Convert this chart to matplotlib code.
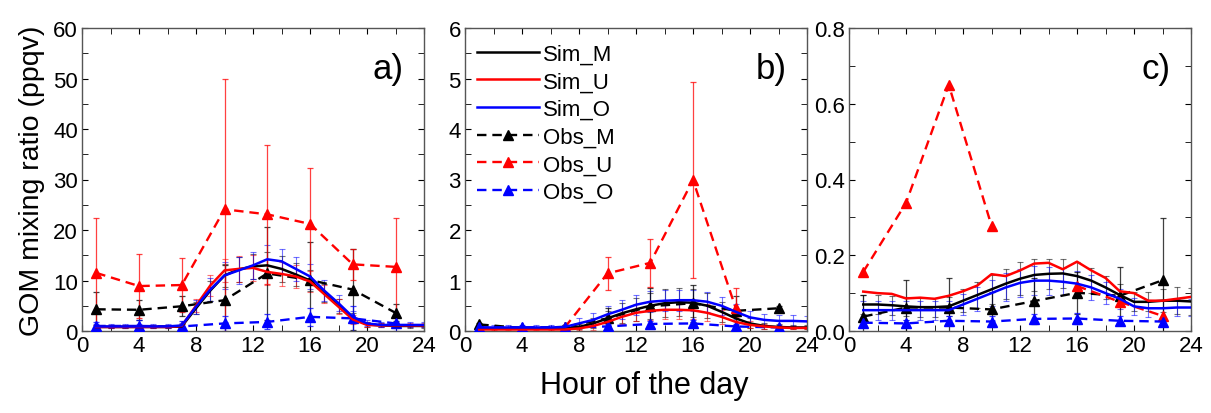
import numpy as np
import matplotlib.pyplot as plt
from matplotlib.ticker import MultipleLocator

plt.rcParams['font.family'] = ['Liberation Sans', 'DejaVu Sans']

# hours
sim_h = list(range(1, 25))
obs_h = [1, 4, 7, 10, 13, 16, 19, 22]

# ---- panel a
a_sim_M = [0.8, 0.8, 0.8, 0.8, 0.8, 0.8, 0.9, 4.5, 8.0, 11.0, 12.2, 12.8, 13.0, 12.3, 11.2, 10.0, 7.5, 5.0, 2.6, 1.3, 1.1, 1.0, 1.0, 1.0]
a_sim_U = [0.8, 0.8, 0.8, 0.8, 0.8, 0.8, 1.0, 5.0, 9.0, 12.0, 12.3, 12.5, 11.7, 11.3, 10.8, 9.8, 7.3, 4.8, 2.3, 1.2, 1.1, 1.1, 1.1, 1.1]
a_sim_O = [0.9, 0.9, 0.9, 0.9, 0.9, 0.9, 1.1, 4.8, 8.2, 11.0, 12.0, 13.0, 14.2, 13.8, 12.3, 10.8, 8.0, 5.5, 2.8, 1.5, 1.2, 1.2, 1.2, 1.2]
a_sim_M_sd = [0.3, 0.3, 0.3, 0.3, 0.3, 0.3, 0.4, 1.2, 2.0, 2.2, 2.4, 2.5, 2.6, 2.5, 2.3, 2.0, 1.8, 1.4, 0.9, 0.5, 0.4, 0.4, 0.4, 0.4]
a_sim_U_sd = [0.3, 0.3, 0.3, 0.3, 0.3, 0.3, 0.4, 1.3, 2.0, 2.3, 2.5, 2.6, 2.6, 2.4, 2.3, 2.0, 1.8, 1.5, 0.9, 0.5, 0.4, 0.4, 0.4, 0.4]
a_sim_O_sd = [0.4, 0.4, 0.4, 0.4, 0.4, 0.4, 0.5, 1.4, 2.3, 2.6, 2.7, 2.7, 2.8, 2.5, 2.4, 2.5, 2.1, 1.6, 1.1, 0.6, 0.5, 0.5, 0.5, 0.5]
a_obs_M = [4.3, 4.2, 4.9, 6.1, 11.4, 10.1, 8.2, 3.6]
a_obs_U = [11.5, 8.9, 9.1, 24.1, 23.1, 21.2, 13.2, 12.7]
a_obs_O = [1.0, 1.0, 0.9, 1.5, 1.8, 2.8, 2.5, 1.5]
a_obs_M_sd = [3.5, 2.0, 2.0, 7.0, 9.2, 7.6, 8.1, 1.7]
a_obs_U_sd = [10.9, 6.3, 5.4, 25.9, 13.7, 11.0, 3.1, 9.7]
a_obs_O_sd = [0.8, 1.2, 1.0, 1.5, 1.5, 1.8, 2.5, 1.5]

# ---- panel b
b_sim_M = [0.05, 0.05, 0.05, 0.05, 0.05, 0.05, 0.05, 0.08, 0.15, 0.25, 0.35, 0.43, 0.50, 0.55, 0.57, 0.56, 0.50, 0.38, 0.25, 0.15, 0.10, 0.08, 0.07, 0.07]
b_sim_U = [0.03, 0.03, 0.03, 0.03, 0.03, 0.03, 0.03, 0.05, 0.10, 0.18, 0.28, 0.36, 0.40, 0.42, 0.42, 0.41, 0.36, 0.28, 0.18, 0.12, 0.09, 0.07, 0.06, 0.06]
b_sim_O = [0.07, 0.07, 0.07, 0.07, 0.07, 0.07, 0.08, 0.15, 0.22, 0.33, 0.42, 0.52, 0.58, 0.60, 0.61, 0.61, 0.58, 0.50, 0.38, 0.27, 0.22, 0.20, 0.20, 0.19]
b_sim_M_sd = [0.02, 0.02, 0.02, 0.02, 0.02, 0.02, 0.02, 0.05, 0.10, 0.15, 0.20, 0.23, 0.26, 0.28, 0.28, 0.28, 0.25, 0.20, 0.14, 0.10, 0.06, 0.05, 0.04, 0.04]
b_sim_U_sd = [0.02, 0.02, 0.02, 0.02, 0.02, 0.02, 0.02, 0.04, 0.08, 0.12, 0.15, 0.17, 0.18, 0.18, 0.18, 0.18, 0.17, 0.14, 0.10, 0.07, 0.05, 0.04, 0.03, 0.03]
b_sim_O_sd = [0.04, 0.04, 0.04, 0.04, 0.04, 0.04, 0.04, 0.10, 0.14, 0.17, 0.19, 0.20, 0.21, 0.21, 0.21, 0.21, 0.20, 0.18, 0.15, 0.12, 0.11, 0.11, 0.11, 0.11]
b_obs_M = [0.13, 0.06, 0.08, 0.25, 0.49, 0.55, 0.40, 0.45]
b_obs_U = [np.nan, np.nan, 0.07, 1.14, 1.35, 2.99, 0.45, np.nan]
b_obs_O = [0.07, 0.07, 0.07, 0.09, 0.14, 0.15, 0.09, 0.07]
b_obs_M_sd = [0.03, 0.02, 0.03, 0.20, 0.37, 0.37, 0.30, 0.05]
b_obs_U_sd = [0.0, 0.0, 0.02, 0.33, 0.47, 1.95, 0.40, 0.0]
b_obs_O_sd = [0.02, 0.02, 0.02, 0.05, 0.06, 0.06, 0.05, 0.03]

# ---- panel c
c_sim_M = [0.070, 0.070, 0.068, 0.065, 0.063, 0.063, 0.065, 0.080, 0.095, 0.110, 0.125, 0.138, 0.148, 0.151, 0.152, 0.145, 0.133, 0.115, 0.095, 0.077, 0.077, 0.080, 0.080, 0.078]
c_sim_U = [0.104, 0.100, 0.098, 0.086, 0.088, 0.085, 0.093, 0.105, 0.120, 0.150, 0.145, 0.160, 0.178, 0.180, 0.163, 0.183, 0.160, 0.140, 0.105, 0.100, 0.080, 0.080, 0.085, 0.090]
c_sim_O = [0.055, 0.055, 0.055, 0.055, 0.055, 0.055, 0.055, 0.070, 0.085, 0.100, 0.115, 0.127, 0.133, 0.133, 0.130, 0.125, 0.115, 0.100, 0.085, 0.065, 0.060, 0.060, 0.062, 0.062]
c_sim_M_sd = [0.025, 0.025, 0.025, 0.025, 0.025, 0.025, 0.025, 0.030, 0.035, 0.038, 0.040, 0.043, 0.043, 0.040, 0.038, 0.036, 0.033, 0.030, 0.030, 0.025, 0.025, 0.030, 0.035, 0.035]
c_sim_O_sd = [0.025, 0.025, 0.025, 0.025, 0.025, 0.025, 0.025, 0.028, 0.032, 0.035, 0.037, 0.038, 0.038, 0.037, 0.036, 0.034, 0.032, 0.030, 0.027, 0.023, 0.022, 0.022, 0.023, 0.023]
c_obs_M = [0.038, 0.062, 0.062, 0.057, 0.079, 0.101, 0.093, 0.134]
c_obs_U = [0.156, 0.338, 0.650, 0.278, np.nan, 0.119, 0.077, 0.040]
c_obs_O = [0.022, 0.020, 0.027, 0.025, 0.032, 0.033, 0.027, 0.025]
c_obs_M_sd = [0.057, 0.072, 0.077, 0.045, 0.060, 0.055, 0.077, 0.165]
c_obs_O_sd = [0.012, 0.010, 0.012, 0.015, 0.012, 0.015, 0.012, 0.012]

panels = [
    dict(lab='a)', ymax=60, ymaj=10, ymin=5, yfmt='{:.0f}',
         sim=[(a_sim_M, a_sim_M_sd), (a_sim_U, a_sim_U_sd), (a_sim_O, a_sim_O_sd)],
         obs=[(a_obs_M, a_obs_M_sd), (a_obs_U, a_obs_U_sd), (a_obs_O, a_obs_O_sd)]),
    dict(lab='b)', ymax=6, ymaj=1, ymin=0.5, yfmt='{:.0f}',
         sim=[(b_sim_M, b_sim_M_sd), (b_sim_U, b_sim_U_sd), (b_sim_O, b_sim_O_sd)],
         obs=[(b_obs_M, b_obs_M_sd), (b_obs_U, b_obs_U_sd), (b_obs_O, b_obs_O_sd)]),
    dict(lab='c)', ymax=0.8, ymaj=0.2, ymin=0.1, yfmt='{:.1f}',
         sim=[(c_sim_M, c_sim_M_sd), (c_sim_U, None), (c_sim_O, c_sim_O_sd)],
         obs=[(c_obs_M, c_obs_M_sd), (c_obs_U, None), (c_obs_O, c_obs_O_sd)]),
]

colors = ['black', 'red', 'blue']
names = ['M', 'U', 'O']

fig = plt.figure(figsize=(12.11, 4.14), dpi=100)
lefts = [82, 465, 849]
for k, p in enumerate(panels):
    ax = fig.add_axes([lefts[k] / 1211, 82 / 414, 342 / 1211, 303 / 414])
    for (vals, sd), c, n in zip(p['sim'], colors, names):
        if sd is not None:
            ax.errorbar(sim_h, vals, yerr=sd, fmt='none', ecolor=c, elinewidth=0.8,
                        capsize=2.5, capthick=0.8, alpha=0.55, zorder=2)
        ax.plot(sim_h, vals, '-', color=c, lw=1.8, label='Sim_' + n, zorder=4)
    for (vals, sd), c, n in zip(p['obs'], colors, names):
        if sd is not None:
            ax.errorbar(obs_h, vals, yerr=sd, fmt='none', ecolor=c, elinewidth=0.9,
                        capsize=2.5, capthick=0.9, alpha=0.75, zorder=2)
        ax.plot(obs_h, vals, '--', color=c, lw=1.7, marker='^', ms=6.5,
                dashes=(4, 2.5), label='Obs_' + n, zorder=3)
    ax.set_xlim(0, 24)
    ax.set_ylim(0, p['ymax'])
    ax.xaxis.set_major_locator(MultipleLocator(4))
    ax.xaxis.set_minor_locator(MultipleLocator(2))
    ax.yaxis.set_major_locator(MultipleLocator(p['ymaj']))
    ax.yaxis.set_minor_locator(MultipleLocator(p['ymin']))
    yt = np.arange(0, p['ymax'] + 1e-9, p['ymaj'])
    ax.set_yticks(yt)
    ax.set_yticklabels([p['yfmt'].format(v) for v in yt])
    ax.tick_params(which='both', direction='in', top=True, right=True, labelsize=16, pad=3)
    ax.tick_params(which='major', length=4)
    ax.tick_params(which='minor', length=4)
    for s in ax.spines.values():
        s.set_color('#555555')
        s.set_linewidth(1.0)
    ax.text(0.94, 0.865, p['lab'], transform=ax.transAxes, ha='right', va='center', fontsize=25)
    if k == 0:
        ax.set_ylabel('GOM mixing ratio (ppqv)', fontsize=20.5, labelpad=6)
    if k == 1:
        ax.legend(loc='upper left', bbox_to_anchor=(-0.01, 1.0), frameon=False, fontsize=16,
                  handlelength=2.8, handletextpad=0.15, labelspacing=0.3, borderaxespad=0.3)

fig.text(0.532, 0.068, 'Hour of the day', ha='center', va='center', fontsize=22)

plt.savefig('out.png', dpi=100)
